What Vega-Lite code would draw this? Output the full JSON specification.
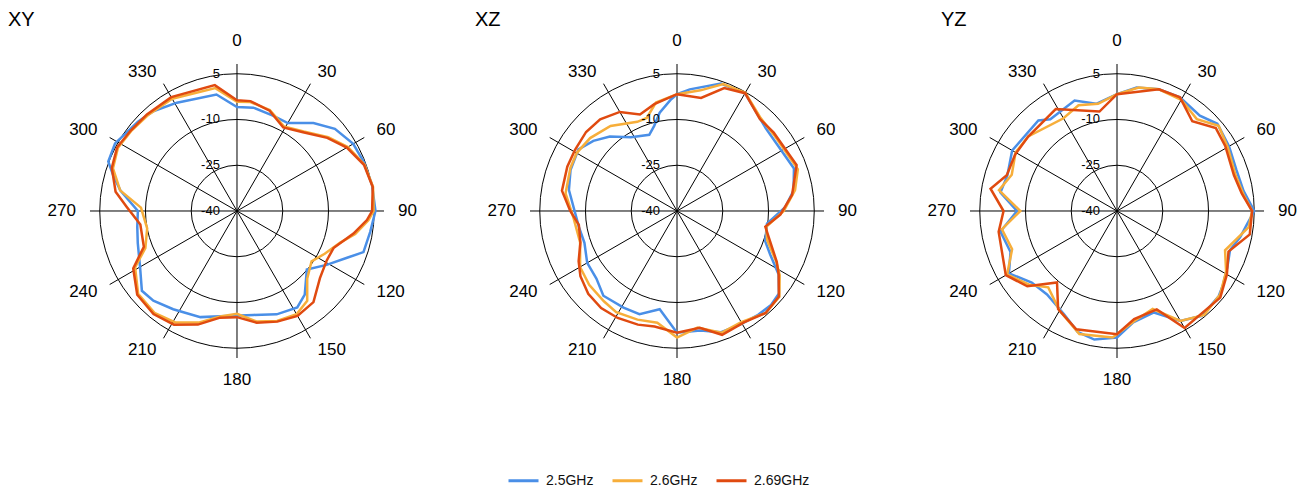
{
  "$schema": "https://vega.github.io/schema/vega-lite/v6.json",
  "padding": 0,
  "spacing": 0,
  "background": "white",
  "datasets": {
    "angles": [{"angle":0},{"angle":30},{"angle":60},{"angle":90},{"angle":120},{"angle":150},{"angle":180},{"angle":210},{"angle":240},{"angle":270},{"angle":300},{"angle":330}],
    "spokes": [{"angle":0},{"angle":30},{"angle":60},{"angle":90},{"angle":120},{"angle":150}],
    "rings": [{"db":-25},{"db":-10},{"db":5}],
    "ticks": [{"db":5,"label":"5"},{"db":-10,"label":"-10"},{"db":-25,"label":"-25"},{"db":-40,"label":"-40"}],
    "pattern": [
      {"plane":"XY","freq":"2.5GHz","angle":0,"db":-5.9},{"plane":"XY","freq":"2.5GHz","angle":9,"db":-5.7},{"plane":"XY","freq":"2.5GHz","angle":21,"db":-6.6},{"plane":"XY","freq":"2.5GHz","angle":30,"db":-6.7},{"plane":"XY","freq":"2.5GHz","angle":41,"db":-1.8},{"plane":"XY","freq":"2.5GHz","angle":50,"db":1.9},{"plane":"XY","freq":"2.5GHz","angle":60,"db":4.0},{"plane":"XY","freq":"2.5GHz","angle":69,"db":4.6},{"plane":"XY","freq":"2.5GHz","angle":79,"db":5.1},{"plane":"XY","freq":"2.5GHz","angle":90,"db":5.4},{"plane":"XY","freq":"2.5GHz","angle":99,"db":4.2},{"plane":"XY","freq":"2.5GHz","angle":108,"db":3.6},{"plane":"XY","freq":"2.5GHz","angle":113,"db":-0.8},{"plane":"XY","freq":"2.5GHz","angle":121,"db":-5.7},{"plane":"XY","freq":"2.5GHz","angle":130,"db":-10.1},{"plane":"XY","freq":"2.5GHz","angle":141,"db":-4.7},{"plane":"XY","freq":"2.5GHz","angle":148,"db":-2.7},{"plane":"XY","freq":"2.5GHz","angle":159,"db":-3.7},{"plane":"XY","freq":"2.5GHz","angle":171,"db":-5.5},{"plane":"XY","freq":"2.5GHz","angle":182,"db":-5.6},{"plane":"XY","freq":"2.5GHz","angle":199,"db":-3.2},{"plane":"XY","freq":"2.5GHz","angle":213,"db":-1.6},{"plane":"XY","freq":"2.5GHz","angle":223,"db":0.2},{"plane":"XY","freq":"2.5GHz","angle":230,"db":0.7},{"plane":"XY","freq":"2.5GHz","angle":240,"db":-3.3},{"plane":"XY","freq":"2.5GHz","angle":252,"db":-5.8},{"plane":"XY","freq":"2.5GHz","angle":261,"db":-6.9},{"plane":"XY","freq":"2.5GHz","angle":270,"db":-7.5},{"plane":"XY","freq":"2.5GHz","angle":280,"db":-1.2},{"plane":"XY","freq":"2.5GHz","angle":286,"db":2.2},{"plane":"XY","freq":"2.5GHz","angle":291,"db":5.2},{"plane":"XY","freq":"2.5GHz","angle":299,"db":5.7},{"plane":"XY","freq":"2.5GHz","angle":312,"db":3.7},{"plane":"XY","freq":"2.5GHz","angle":320,"db":2.7},{"plane":"XY","freq":"2.5GHz","angle":331,"db":0.6},{"plane":"XY","freq":"2.5GHz","angle":350,"db":-1.2},
      {"plane":"XY","freq":"2.6GHz","angle":0,"db":-4.2},{"plane":"XY","freq":"2.6GHz","angle":7,"db":-4.0},{"plane":"XY","freq":"2.6GHz","angle":18,"db":-5.2},{"plane":"XY","freq":"2.6GHz","angle":29,"db":-8.3},{"plane":"XY","freq":"2.6GHz","angle":40,"db":-6.0},{"plane":"XY","freq":"2.6GHz","angle":51,"db":-1.5},{"plane":"XY","freq":"2.6GHz","angle":60,"db":2.0},{"plane":"XY","freq":"2.6GHz","angle":70,"db":4.5},{"plane":"XY","freq":"2.6GHz","angle":80,"db":5.3},{"plane":"XY","freq":"2.6GHz","angle":90,"db":4.8},{"plane":"XY","freq":"2.6GHz","angle":94,"db":3.2},{"plane":"XY","freq":"2.6GHz","angle":101,"db":-0.5},{"plane":"XY","freq":"2.6GHz","angle":107,"db":-4.6},{"plane":"XY","freq":"2.6GHz","angle":116,"db":-8.0},{"plane":"XY","freq":"2.6GHz","angle":124,"db":-10.5},{"plane":"XY","freq":"2.6GHz","angle":134,"db":-8.0},{"plane":"XY","freq":"2.6GHz","angle":142,"db":-2.6},{"plane":"XY","freq":"2.6GHz","angle":150,"db":-0.9},{"plane":"XY","freq":"2.6GHz","angle":160,"db":-1.6},{"plane":"XY","freq":"2.6GHz","angle":170,"db":-3.2},{"plane":"XY","freq":"2.6GHz","angle":180,"db":-6.3},{"plane":"XY","freq":"2.6GHz","angle":189,"db":-5.0},{"plane":"XY","freq":"2.6GHz","angle":199,"db":-1.3},{"plane":"XY","freq":"2.6GHz","angle":209,"db":1.8},{"plane":"XY","freq":"2.6GHz","angle":219,"db":3.0},{"plane":"XY","freq":"2.6GHz","angle":230,"db":2.3},{"plane":"XY","freq":"2.6GHz","angle":241,"db":-1.8},{"plane":"XY","freq":"2.6GHz","angle":248,"db":-7.6},{"plane":"XY","freq":"2.6GHz","angle":259,"db":-10.0},{"plane":"XY","freq":"2.6GHz","angle":272,"db":-8.5},{"plane":"XY","freq":"2.6GHz","angle":280,"db":-1.1},{"plane":"XY","freq":"2.6GHz","angle":289,"db":3.0},{"plane":"XY","freq":"2.6GHz","angle":298,"db":4.2},{"plane":"XY","freq":"2.6GHz","angle":307,"db":3.5},{"plane":"XY","freq":"2.6GHz","angle":317,"db":2.9},{"plane":"XY","freq":"2.6GHz","angle":330,"db":2.5},{"plane":"XY","freq":"2.6GHz","angle":350,"db":0.9},
      {"plane":"XY","freq":"2.69GHz","angle":0,"db":-3.7},{"plane":"XY","freq":"2.69GHz","angle":7,"db":-3.7},{"plane":"XY","freq":"2.69GHz","angle":18,"db":-5.4},{"plane":"XY","freq":"2.69GHz","angle":29,"db":-8.7},{"plane":"XY","freq":"2.69GHz","angle":40,"db":-6.3},{"plane":"XY","freq":"2.69GHz","angle":51,"db":-1.9},{"plane":"XY","freq":"2.69GHz","angle":60,"db":1.6},{"plane":"XY","freq":"2.69GHz","angle":70,"db":4.3},{"plane":"XY","freq":"2.69GHz","angle":80,"db":5.2},{"plane":"XY","freq":"2.69GHz","angle":90,"db":4.3},{"plane":"XY","freq":"2.69GHz","angle":94,"db":2.7},{"plane":"XY","freq":"2.69GHz","angle":101,"db":-1.1},{"plane":"XY","freq":"2.69GHz","angle":111,"db":-6.1},{"plane":"XY","freq":"2.69GHz","angle":119,"db":-6.4},{"plane":"XY","freq":"2.69GHz","angle":129,"db":-5.0},{"plane":"XY","freq":"2.69GHz","angle":140,"db":-1.0},{"plane":"XY","freq":"2.69GHz","angle":150,"db":-0.3},{"plane":"XY","freq":"2.69GHz","angle":160,"db":-1.4},{"plane":"XY","freq":"2.69GHz","angle":170,"db":-2.8},{"plane":"XY","freq":"2.69GHz","angle":180,"db":-5.2},{"plane":"XY","freq":"2.69GHz","angle":189,"db":-4.6},{"plane":"XY","freq":"2.69GHz","angle":199,"db":-0.6},{"plane":"XY","freq":"2.69GHz","angle":209,"db":2.6},{"plane":"XY","freq":"2.69GHz","angle":219,"db":3.5},{"plane":"XY","freq":"2.69GHz","angle":230,"db":2.7},{"plane":"XY","freq":"2.69GHz","angle":241,"db":-1.1},{"plane":"XY","freq":"2.69GHz","angle":249,"db":-7.3},{"plane":"XY","freq":"2.69GHz","angle":262,"db":-8.0},{"plane":"XY","freq":"2.69GHz","angle":272,"db":-3.9},{"plane":"XY","freq":"2.69GHz","angle":279,"db":0.3},{"plane":"XY","freq":"2.69GHz","angle":289,"db":3.4},{"plane":"XY","freq":"2.69GHz","angle":298,"db":4.5},{"plane":"XY","freq":"2.69GHz","angle":307,"db":3.7},{"plane":"XY","freq":"2.69GHz","angle":317,"db":3.3},{"plane":"XY","freq":"2.69GHz","angle":330,"db":3.1},{"plane":"XY","freq":"2.69GHz","angle":350,"db":1.9},
      {"plane":"XZ","freq":"2.5GHz","angle":0,"db":-1.7},{"plane":"XZ","freq":"2.5GHz","angle":6,"db":0.1},{"plane":"XZ","freq":"2.5GHz","angle":19,"db":4.2},{"plane":"XZ","freq":"2.5GHz","angle":30,"db":4.6},{"plane":"XZ","freq":"2.5GHz","angle":47,"db":-0.2},{"plane":"XZ","freq":"2.5GHz","angle":56,"db":-0.6},{"plane":"XZ","freq":"2.5GHz","angle":70,"db":0.8},{"plane":"XZ","freq":"2.5GHz","angle":80,"db":-1.2},{"plane":"XZ","freq":"2.5GHz","angle":88,"db":-4.5},{"plane":"XZ","freq":"2.5GHz","angle":98,"db":-10.2},{"plane":"XZ","freq":"2.5GHz","angle":109,"db":-9.4},{"plane":"XZ","freq":"2.5GHz","angle":115,"db":-6.3},{"plane":"XZ","freq":"2.5GHz","angle":122,"db":-0.7},{"plane":"XZ","freq":"2.5GHz","angle":129,"db":3.0},{"plane":"XZ","freq":"2.5GHz","angle":135,"db":3.6},{"plane":"XZ","freq":"2.5GHz","angle":142,"db":3.2},{"plane":"XZ","freq":"2.5GHz","angle":151,"db":2.6},{"plane":"XZ","freq":"2.5GHz","angle":160,"db":2.3},{"plane":"XZ","freq":"2.5GHz","angle":169,"db":-0.1},{"plane":"XZ","freq":"2.5GHz","angle":180,"db":-0.1},{"plane":"XZ","freq":"2.5GHz","angle":190,"db":-7.3},{"plane":"XZ","freq":"2.5GHz","angle":200,"db":-4.0},{"plane":"XZ","freq":"2.5GHz","angle":209,"db":-3.8},{"plane":"XZ","freq":"2.5GHz","angle":221,"db":-3.2},{"plane":"XZ","freq":"2.5GHz","angle":230,"db":-5.5},{"plane":"XZ","freq":"2.5GHz","angle":240,"db":-6.0},{"plane":"XZ","freq":"2.5GHz","angle":251,"db":-7.9},{"plane":"XZ","freq":"2.5GHz","angle":261,"db":-7.4},{"plane":"XZ","freq":"2.5GHz","angle":281,"db":-3.9},{"plane":"XZ","freq":"2.5GHz","angle":291,"db":-2.6},{"plane":"XZ","freq":"2.5GHz","angle":302,"db":-1.9},{"plane":"XZ","freq":"2.5GHz","angle":310,"db":-4.2},{"plane":"XZ","freq":"2.5GHz","angle":318,"db":-7.1},{"plane":"XZ","freq":"2.5GHz","angle":328,"db":-11.5},{"plane":"XZ","freq":"2.5GHz","angle":340,"db":-13.4},{"plane":"XZ","freq":"2.5GHz","angle":345,"db":-11.1},{"plane":"XZ","freq":"2.5GHz","angle":350,"db":-7.3},{"plane":"XZ","freq":"2.5GHz","angle":357,"db":-3.3},
      {"plane":"XZ","freq":"2.6GHz","angle":0,"db":-1.7},{"plane":"XZ","freq":"2.6GHz","angle":11,"db":0.3},{"plane":"XZ","freq":"2.6GHz","angle":20,"db":4.3},{"plane":"XZ","freq":"2.6GHz","angle":30,"db":4.8},{"plane":"XZ","freq":"2.6GHz","angle":42,"db":1.0},{"plane":"XZ","freq":"2.6GHz","angle":52,"db":0.4},{"plane":"XZ","freq":"2.6GHz","angle":71,"db":1.9},{"plane":"XZ","freq":"2.6GHz","angle":80,"db":-0.7},{"plane":"XZ","freq":"2.6GHz","angle":90,"db":-5.0},{"plane":"XZ","freq":"2.6GHz","angle":100,"db":-10.3},{"plane":"XZ","freq":"2.6GHz","angle":108,"db":-8.9},{"plane":"XZ","freq":"2.6GHz","angle":117,"db":-3.5},{"plane":"XZ","freq":"2.6GHz","angle":122,"db":-0.3},{"plane":"XZ","freq":"2.6GHz","angle":130,"db":3.8},{"plane":"XZ","freq":"2.6GHz","angle":139,"db":4.3},{"plane":"XZ","freq":"2.6GHz","angle":150,"db":2.1},{"plane":"XZ","freq":"2.6GHz","angle":160,"db":2.5},{"plane":"XZ","freq":"2.6GHz","angle":170,"db":-1.2},{"plane":"XZ","freq":"2.6GHz","angle":180,"db":1.5},{"plane":"XZ","freq":"2.6GHz","angle":190,"db":-2.8},{"plane":"XZ","freq":"2.6GHz","angle":200,"db":-2.1},{"plane":"XZ","freq":"2.6GHz","angle":211,"db":-1.3},{"plane":"XZ","freq":"2.6GHz","angle":219,"db":-1.9},{"plane":"XZ","freq":"2.6GHz","angle":230,"db":-2.4},{"plane":"XZ","freq":"2.6GHz","angle":240,"db":-3.3},{"plane":"XZ","freq":"2.6GHz","angle":252,"db":-6.6},{"plane":"XZ","freq":"2.6GHz","angle":266,"db":-6.0},{"plane":"XZ","freq":"2.6GHz","angle":279,"db":-3.0},{"plane":"XZ","freq":"2.6GHz","angle":292,"db":-2.3},{"plane":"XZ","freq":"2.6GHz","angle":300,"db":-2.0},{"plane":"XZ","freq":"2.6GHz","angle":310,"db":-2.8},{"plane":"XZ","freq":"2.6GHz","angle":322,"db":-4.6},{"plane":"XZ","freq":"2.6GHz","angle":336,"db":-8.0},{"plane":"XZ","freq":"2.6GHz","angle":342,"db":-7.9},{"plane":"XZ","freq":"2.6GHz","angle":349,"db":-3.8},
      {"plane":"XZ","freq":"2.69GHz","angle":0,"db":-1.7},{"plane":"XZ","freq":"2.69GHz","angle":12,"db":-2.1},{"plane":"XZ","freq":"2.69GHz","angle":21,"db":3.2},{"plane":"XZ","freq":"2.69GHz","angle":30,"db":4.6},{"plane":"XZ","freq":"2.69GHz","angle":42,"db":0.6},{"plane":"XZ","freq":"2.69GHz","angle":51,"db":0.8},{"plane":"XZ","freq":"2.69GHz","angle":69,"db":2.0},{"plane":"XZ","freq":"2.69GHz","angle":82,"db":-1.9},{"plane":"XZ","freq":"2.69GHz","angle":92,"db":-6.1},{"plane":"XZ","freq":"2.69GHz","angle":100,"db":-10.6},{"plane":"XZ","freq":"2.69GHz","angle":106,"db":-8.7},{"plane":"XZ","freq":"2.69GHz","angle":117,"db":-3.3},{"plane":"XZ","freq":"2.69GHz","angle":122,"db":-0.7},{"plane":"XZ","freq":"2.69GHz","angle":130,"db":3.6},{"plane":"XZ","freq":"2.69GHz","angle":139,"db":4.3},{"plane":"XZ","freq":"2.69GHz","angle":149,"db":2.6},{"plane":"XZ","freq":"2.69GHz","angle":160,"db":3.2},{"plane":"XZ","freq":"2.69GHz","angle":169,"db":-1.0},{"plane":"XZ","freq":"2.69GHz","angle":180,"db":-0.1},{"plane":"XZ","freq":"2.69GHz","angle":191,"db":-1.4},{"plane":"XZ","freq":"2.69GHz","angle":199,"db":-0.6},{"plane":"XZ","freq":"2.69GHz","angle":209,"db":0.1},{"plane":"XZ","freq":"2.69GHz","angle":218,"db":0.4},{"plane":"XZ","freq":"2.69GHz","angle":227,"db":-0.2},{"plane":"XZ","freq":"2.69GHz","angle":236,"db":-1.8},{"plane":"XZ","freq":"2.69GHz","angle":243,"db":-3.8},{"plane":"XZ","freq":"2.69GHz","angle":252,"db":-6.7},{"plane":"XZ","freq":"2.69GHz","angle":262,"db":-7.5},{"plane":"XZ","freq":"2.69GHz","angle":270,"db":-5.0},{"plane":"XZ","freq":"2.69GHz","angle":280,"db":-1.7},{"plane":"XZ","freq":"2.69GHz","angle":292,"db":-1.2},{"plane":"XZ","freq":"2.69GHz","angle":301,"db":-1.0},{"plane":"XZ","freq":"2.69GHz","angle":311,"db":-0.5},{"plane":"XZ","freq":"2.69GHz","angle":320,"db":-0.8},{"plane":"XZ","freq":"2.69GHz","angle":330,"db":-2.5},{"plane":"XZ","freq":"2.69GHz","angle":339,"db":-6.1},{"plane":"XZ","freq":"2.69GHz","angle":348,"db":-4.2},
      {"plane":"YZ","freq":"2.5GHz","angle":0,"db":-1.7},{"plane":"YZ","freq":"2.5GHz","angle":9,"db":1.0},{"plane":"YZ","freq":"2.5GHz","angle":19,"db":2.2},{"plane":"YZ","freq":"2.5GHz","angle":29,"db":2.6},{"plane":"YZ","freq":"2.5GHz","angle":41,"db":1.4},{"plane":"YZ","freq":"2.5GHz","angle":49,"db":3.6},{"plane":"YZ","freq":"2.5GHz","angle":60,"db":2.4},{"plane":"YZ","freq":"2.5GHz","angle":71,"db":1.4},{"plane":"YZ","freq":"2.5GHz","angle":81,"db":2.0},{"plane":"YZ","freq":"2.5GHz","angle":90,"db":5.0},{"plane":"YZ","freq":"2.5GHz","angle":96,"db":2.8},{"plane":"YZ","freq":"2.5GHz","angle":102,"db":1.3},{"plane":"YZ","freq":"2.5GHz","angle":109,"db":-0.8},{"plane":"YZ","freq":"2.5GHz","angle":117,"db":0.6},{"plane":"YZ","freq":"2.5GHz","angle":125,"db":2.4},{"plane":"YZ","freq":"2.5GHz","angle":130,"db":3.5},{"plane":"YZ","freq":"2.5GHz","angle":141,"db":4.2},{"plane":"YZ","freq":"2.5GHz","angle":150,"db":1.6},{"plane":"YZ","freq":"2.5GHz","angle":160,"db":-4.6},{"plane":"YZ","freq":"2.5GHz","angle":172,"db":-3.0},{"plane":"YZ","freq":"2.5GHz","angle":180,"db":1.5},{"plane":"YZ","freq":"2.5GHz","angle":190,"db":2.8},{"plane":"YZ","freq":"2.5GHz","angle":198,"db":1.7},{"plane":"YZ","freq":"2.5GHz","angle":207,"db":-1.9},{"plane":"YZ","freq":"2.5GHz","angle":220,"db":-4.3},{"plane":"YZ","freq":"2.5GHz","angle":230,"db":-3.5},{"plane":"YZ","freq":"2.5GHz","angle":240,"db":0.9},{"plane":"YZ","freq":"2.5GHz","angle":249,"db":-2.6},{"plane":"YZ","freq":"2.5GHz","angle":260,"db":-1.2},{"plane":"YZ","freq":"2.5GHz","angle":270,"db":-7.2},{"plane":"YZ","freq":"2.5GHz","angle":279,"db":-1.3},{"plane":"YZ","freq":"2.5GHz","angle":288,"db":-2.2},{"plane":"YZ","freq":"2.5GHz","angle":300,"db":-0.3},{"plane":"YZ","freq":"2.5GHz","angle":319,"db":-0.7},{"plane":"YZ","freq":"2.5GHz","angle":324,"db":-2.8},{"plane":"YZ","freq":"2.5GHz","angle":339,"db":-1.2},{"plane":"YZ","freq":"2.5GHz","angle":349,"db":-4.2},
      {"plane":"YZ","freq":"2.6GHz","angle":0,"db":-1.7},{"plane":"YZ","freq":"2.6GHz","angle":10,"db":1.1},{"plane":"YZ","freq":"2.6GHz","angle":19,"db":2.2},{"plane":"YZ","freq":"2.6GHz","angle":30,"db":2.1},{"plane":"YZ","freq":"2.6GHz","angle":41,"db":-0.1},{"plane":"YZ","freq":"2.6GHz","angle":50,"db":3.5},{"plane":"YZ","freq":"2.6GHz","angle":60,"db":1.9},{"plane":"YZ","freq":"2.6GHz","angle":73,"db":0.6},{"plane":"YZ","freq":"2.6GHz","angle":83,"db":1.9},{"plane":"YZ","freq":"2.6GHz","angle":90,"db":4.3},{"plane":"YZ","freq":"2.6GHz","angle":97,"db":3.5},{"plane":"YZ","freq":"2.6GHz","angle":110,"db":-2.3},{"plane":"YZ","freq":"2.6GHz","angle":119,"db":0.9},{"plane":"YZ","freq":"2.6GHz","angle":129,"db":3.5},{"plane":"YZ","freq":"2.6GHz","angle":140,"db":4.5},{"plane":"YZ","freq":"2.6GHz","angle":150,"db":1.6},{"plane":"YZ","freq":"2.6GHz","angle":160,"db":-5.8},{"plane":"YZ","freq":"2.6GHz","angle":171,"db":-3.5},{"plane":"YZ","freq":"2.6GHz","angle":182,"db":1.5},{"plane":"YZ","freq":"2.6GHz","angle":197,"db":2.2},{"plane":"YZ","freq":"2.6GHz","angle":210,"db":-2.3},{"plane":"YZ","freq":"2.6GHz","angle":222,"db":-6.3},{"plane":"YZ","freq":"2.6GHz","angle":230,"db":-2.4},{"plane":"YZ","freq":"2.6GHz","angle":240,"db":1.6},{"plane":"YZ","freq":"2.6GHz","angle":250,"db":-3.4},{"plane":"YZ","freq":"2.6GHz","angle":261,"db":-1.8},{"plane":"YZ","freq":"2.6GHz","angle":270,"db":-8.3},{"plane":"YZ","freq":"2.6GHz","angle":280,"db":-0.7},{"plane":"YZ","freq":"2.6GHz","angle":289,"db":-3.5},{"plane":"YZ","freq":"2.6GHz","angle":300,"db":-1.6},{"plane":"YZ","freq":"2.6GHz","angle":310,"db":-2.0},{"plane":"YZ","freq":"2.6GHz","angle":330,"db":-4.9},{"plane":"YZ","freq":"2.6GHz","angle":340,"db":-3.1},{"plane":"YZ","freq":"2.6GHz","angle":350,"db":-4.3},
      {"plane":"YZ","freq":"2.69GHz","angle":0,"db":-1.7},{"plane":"YZ","freq":"2.69GHz","angle":19,"db":2.2},{"plane":"YZ","freq":"2.69GHz","angle":29,"db":2.6},{"plane":"YZ","freq":"2.69GHz","angle":40,"db":-1.6},{"plane":"YZ","freq":"2.69GHz","angle":50,"db":2.3},{"plane":"YZ","freq":"2.69GHz","angle":59,"db":1.4},{"plane":"YZ","freq":"2.69GHz","angle":73,"db":0.1},{"plane":"YZ","freq":"2.69GHz","angle":82,"db":1.3},{"plane":"YZ","freq":"2.69GHz","angle":90,"db":4.3},{"plane":"YZ","freq":"2.69GHz","angle":100,"db":4.2},{"plane":"YZ","freq":"2.69GHz","angle":110,"db":-1.1},{"plane":"YZ","freq":"2.69GHz","angle":120,"db":1.6},{"plane":"YZ","freq":"2.69GHz","angle":130,"db":4.2},{"plane":"YZ","freq":"2.69GHz","angle":150,"db":4.3},{"plane":"YZ","freq":"2.69GHz","angle":158,"db":-5.2},{"plane":"YZ","freq":"2.69GHz","angle":171,"db":-4.1},{"plane":"YZ","freq":"2.69GHz","angle":180,"db":0.4},{"plane":"YZ","freq":"2.69GHz","angle":199,"db":1.0},{"plane":"YZ","freq":"2.69GHz","angle":211,"db":-2.5},{"plane":"YZ","freq":"2.69GHz","angle":220,"db":-9.4},{"plane":"YZ","freq":"2.69GHz","angle":230,"db":-1.6},{"plane":"YZ","freq":"2.69GHz","angle":240,"db":2.1},{"plane":"YZ","freq":"2.69GHz","angle":260,"db":-0.6},{"plane":"YZ","freq":"2.69GHz","angle":270,"db":-2.8},{"plane":"YZ","freq":"2.69GHz","angle":280,"db":2.1},{"plane":"YZ","freq":"2.69GHz","angle":288,"db":-2.0},{"plane":"YZ","freq":"2.69GHz","angle":299,"db":-1.8},{"plane":"YZ","freq":"2.69GHz","angle":310,"db":-2.0},{"plane":"YZ","freq":"2.69GHz","angle":329,"db":-1.0},{"plane":"YZ","freq":"2.69GHz","angle":350,"db":-6.9}
    ]
  },
  "hconcat": [
    {
      "width": 436, "height": 489,
      "layer": [
        {"data": {"name": "rings"}, "transform": [{"calculate": "datum.db+40", "as": "rr"}], "mark": {"type": "point", "shape": "circle", "filled": false, "stroke": "#000", "strokeWidth": 1, "opacity": 1},
         "encoding": {"x": {"datum": 0, "type": "quantitative", "scale": {"domain": [-77.70, 65.25]}, "axis": null}, "y": {"datum": 0, "type": "quantitative", "scale": {"domain": [-91.15, 69.18]}, "axis": null}, "size": {"field": "rr", "type": "quantitative", "scale": {"type": "pow", "exponent": 2, "domain": [0, 45], "range": [0, 75350]}, "legend": null}}},
        {"data": {"name": "spokes"}, "transform": [{"calculate": "48.2*sin(datum.angle*PI/180)", "as": "sx"}, {"calculate": "48.2*cos(datum.angle*PI/180)", "as": "sy"}, {"calculate": "-datum.sx", "as": "ex"}, {"calculate": "-datum.sy", "as": "ey"}], "mark": {"type": "rule", "color": "#000", "strokeWidth": 1},
         "encoding": {"x": {"field": "sx", "type": "quantitative", "scale": {"domain": [-77.70, 65.25]}, "axis": null}, "y": {"field": "sy", "type": "quantitative", "scale": {"domain": [-91.15, 69.18]}, "axis": null}, "x2": {"field": "ex"}, "y2": {"field": "ey"}}},
        {"data": {"name": "pattern"}, "transform": [{"filter": "datum.plane == 'XY'"}, {"calculate": "(datum.db+40)*sin(datum.angle*PI/180)", "as": "px"}, {"calculate": "(datum.db+40)*cos(datum.angle*PI/180)", "as": "py"}], "mark": {"type": "line", "interpolate": "linear-closed", "strokeWidth": 2.5},
         "encoding": {"x": {"field": "px", "type": "quantitative", "scale": {"domain": [-77.70, 65.25]}, "axis": null}, "y": {"field": "py", "type": "quantitative", "scale": {"domain": [-91.15, 69.18]}, "axis": null}, "order": {"field": "angle", "type": "quantitative"},
           "color": {"field": "freq", "type": "nominal", "scale": {"domain": ["2.5GHz", "2.6GHz", "2.69GHz"], "range": ["#4a8fe7", "#f7ae3a", "#e04a10"]},
             "legend": {"title": null, "orient": "none", "legendX": 507, "legendY": 464, "direction": "horizontal", "symbolType": "stroke", "symbolSize": 900, "symbolStrokeWidth": 3, "labelFontSize": 14, "labelFont": "Liberation Sans", "labelColor": "#111", "labelOffset": 6, "columnPadding": 12, "labelBaseline": "middle"}}}},
        {"data": {"name": "angles"}, "transform": [{"calculate": "52.8*sin(datum.angle*PI/180)", "as": "lx"}, {"calculate": "52.8*cos(datum.angle*PI/180)", "as": "ly"}, {"calculate": "''+datum.angle", "as": "txt"}],
         "mark": {"type": "text", "font": "Liberation Sans", "fontSize": 17, "color": "#000", "align": {"expr": "datum.angle == 0 || datum.angle == 180 ? 'center' : (datum.angle < 180 ? 'left' : 'right')"}, "baseline": {"expr": "datum.angle == 0 ? 'bottom' : (datum.angle == 180 ? 'top' : 'middle')"}},
         "encoding": {"x": {"field": "lx", "type": "quantitative", "scale": {"domain": [-77.70, 65.25]}, "axis": null}, "y": {"field": "ly", "type": "quantitative", "scale": {"domain": [-91.15, 69.18]}, "axis": null}, "text": {"field": "txt", "type": "nominal"}}},
        {"data": {"name": "ticks"}, "transform": [{"calculate": "datum.db+40", "as": "ty"}],
         "mark": {"type": "text", "font": "Liberation Sans", "fontSize": 13, "color": "#000", "align": "right", "baseline": "middle"},
         "encoding": {"x": {"datum": -5.6, "type": "quantitative", "scale": {"domain": [-77.70, 65.25]}, "axis": null}, "y": {"field": "ty", "type": "quantitative", "scale": {"domain": [-91.15, 69.18]}, "axis": null}, "text": {"field": "label", "type": "nominal"}}},
        {"data": {"values": [{"name": "XY"}]},
         "mark": {"type": "text", "font": "Liberation Sans", "fontSize": 20, "color": "#000", "align": "left", "baseline": "middle"},
         "encoding": {"x": {"datum": -75.08, "type": "quantitative", "scale": {"domain": [-77.70, 65.25]}, "axis": null}, "y": {"datum": 62.46, "type": "quantitative", "scale": {"domain": [-91.15, 69.18]}, "axis": null}, "text": {"field": "name", "type": "nominal"}}}
      ]
    },
    {
      "width": 436, "height": 489,
      "layer": [
        {"data": {"name": "rings"}, "transform": [{"calculate": "datum.db+40", "as": "rr"}], "mark": {"type": "point", "shape": "circle", "filled": false, "stroke": "#000", "strokeWidth": 1, "opacity": 1},
         "encoding": {"x": {"datum": 0, "type": "quantitative", "scale": {"domain": [-79.02, 63.93]}, "axis": null}, "y": {"datum": 0, "type": "quantitative", "scale": {"domain": [-91.15, 69.18]}, "axis": null}, "size": {"field": "rr", "type": "quantitative", "scale": {"type": "pow", "exponent": 2, "domain": [0, 45], "range": [0, 75350]}, "legend": null}}},
        {"data": {"name": "spokes"}, "transform": [{"calculate": "48.2*sin(datum.angle*PI/180)", "as": "sx"}, {"calculate": "48.2*cos(datum.angle*PI/180)", "as": "sy"}, {"calculate": "-datum.sx", "as": "ex"}, {"calculate": "-datum.sy", "as": "ey"}], "mark": {"type": "rule", "color": "#000", "strokeWidth": 1},
         "encoding": {"x": {"field": "sx", "type": "quantitative", "scale": {"domain": [-79.02, 63.93]}, "axis": null}, "y": {"field": "sy", "type": "quantitative", "scale": {"domain": [-91.15, 69.18]}, "axis": null}, "x2": {"field": "ex"}, "y2": {"field": "ey"}}},
        {"data": {"name": "pattern"}, "transform": [{"filter": "datum.plane == 'XZ'"}, {"calculate": "(datum.db+40)*sin(datum.angle*PI/180)", "as": "px"}, {"calculate": "(datum.db+40)*cos(datum.angle*PI/180)", "as": "py"}], "mark": {"type": "line", "interpolate": "linear-closed", "strokeWidth": 2.5},
         "encoding": {"x": {"field": "px", "type": "quantitative", "scale": {"domain": [-79.02, 63.93]}, "axis": null}, "y": {"field": "py", "type": "quantitative", "scale": {"domain": [-91.15, 69.18]}, "axis": null}, "order": {"field": "angle", "type": "quantitative"},
           "color": {"field": "freq", "type": "nominal", "scale": {"domain": ["2.5GHz", "2.6GHz", "2.69GHz"], "range": ["#4a8fe7", "#f7ae3a", "#e04a10"]}}}},
        {"data": {"name": "angles"}, "transform": [{"calculate": "52.8*sin(datum.angle*PI/180)", "as": "lx"}, {"calculate": "52.8*cos(datum.angle*PI/180)", "as": "ly"}, {"calculate": "''+datum.angle", "as": "txt"}],
         "mark": {"type": "text", "font": "Liberation Sans", "fontSize": 17, "color": "#000", "align": {"expr": "datum.angle == 0 || datum.angle == 180 ? 'center' : (datum.angle < 180 ? 'left' : 'right')"}, "baseline": {"expr": "datum.angle == 0 ? 'bottom' : (datum.angle == 180 ? 'top' : 'middle')"}},
         "encoding": {"x": {"field": "lx", "type": "quantitative", "scale": {"domain": [-79.02, 63.93]}, "axis": null}, "y": {"field": "ly", "type": "quantitative", "scale": {"domain": [-91.15, 69.18]}, "axis": null}, "text": {"field": "txt", "type": "nominal"}}},
        {"data": {"name": "ticks"}, "transform": [{"calculate": "datum.db+40", "as": "ty"}],
         "mark": {"type": "text", "font": "Liberation Sans", "fontSize": 13, "color": "#000", "align": "right", "baseline": "middle"},
         "encoding": {"x": {"datum": -5.6, "type": "quantitative", "scale": {"domain": [-79.02, 63.93]}, "axis": null}, "y": {"field": "ty", "type": "quantitative", "scale": {"domain": [-91.15, 69.18]}, "axis": null}, "text": {"field": "label", "type": "nominal"}}},
        {"data": {"values": [{"name": "XZ"}]},
         "mark": {"type": "text", "font": "Liberation Sans", "fontSize": 20, "color": "#000", "align": "left", "baseline": "middle"},
         "encoding": {"x": {"datum": -66.23, "type": "quantitative", "scale": {"domain": [-79.02, 63.93]}, "axis": null}, "y": {"datum": 62.46, "type": "quantitative", "scale": {"domain": [-91.15, 69.18]}, "axis": null}, "text": {"field": "name", "type": "nominal"}}}
      ]
    },
    {
      "width": 436, "height": 489,
      "layer": [
        {"data": {"name": "rings"}, "transform": [{"calculate": "datum.db+40", "as": "rr"}], "mark": {"type": "point", "shape": "circle", "filled": false, "stroke": "#000", "strokeWidth": 1, "opacity": 1},
         "encoding": {"x": {"datum": 0, "type": "quantitative", "scale": {"domain": [-80.33, 62.62]}, "axis": null}, "y": {"datum": 0, "type": "quantitative", "scale": {"domain": [-91.15, 69.18]}, "axis": null}, "size": {"field": "rr", "type": "quantitative", "scale": {"type": "pow", "exponent": 2, "domain": [0, 45], "range": [0, 75350]}, "legend": null}}},
        {"data": {"name": "spokes"}, "transform": [{"calculate": "48.2*sin(datum.angle*PI/180)", "as": "sx"}, {"calculate": "48.2*cos(datum.angle*PI/180)", "as": "sy"}, {"calculate": "-datum.sx", "as": "ex"}, {"calculate": "-datum.sy", "as": "ey"}], "mark": {"type": "rule", "color": "#000", "strokeWidth": 1},
         "encoding": {"x": {"field": "sx", "type": "quantitative", "scale": {"domain": [-80.33, 62.62]}, "axis": null}, "y": {"field": "sy", "type": "quantitative", "scale": {"domain": [-91.15, 69.18]}, "axis": null}, "x2": {"field": "ex"}, "y2": {"field": "ey"}}},
        {"data": {"name": "pattern"}, "transform": [{"filter": "datum.plane == 'YZ'"}, {"calculate": "(datum.db+40)*sin(datum.angle*PI/180)", "as": "px"}, {"calculate": "(datum.db+40)*cos(datum.angle*PI/180)", "as": "py"}], "mark": {"type": "line", "interpolate": "linear-closed", "strokeWidth": 2.5},
         "encoding": {"x": {"field": "px", "type": "quantitative", "scale": {"domain": [-80.33, 62.62]}, "axis": null}, "y": {"field": "py", "type": "quantitative", "scale": {"domain": [-91.15, 69.18]}, "axis": null}, "order": {"field": "angle", "type": "quantitative"},
           "color": {"field": "freq", "type": "nominal", "scale": {"domain": ["2.5GHz", "2.6GHz", "2.69GHz"], "range": ["#4a8fe7", "#f7ae3a", "#e04a10"]}}}},
        {"data": {"name": "angles"}, "transform": [{"calculate": "52.8*sin(datum.angle*PI/180)", "as": "lx"}, {"calculate": "52.8*cos(datum.angle*PI/180)", "as": "ly"}, {"calculate": "''+datum.angle", "as": "txt"}],
         "mark": {"type": "text", "font": "Liberation Sans", "fontSize": 17, "color": "#000", "align": {"expr": "datum.angle == 0 || datum.angle == 180 ? 'center' : (datum.angle < 180 ? 'left' : 'right')"}, "baseline": {"expr": "datum.angle == 0 ? 'bottom' : (datum.angle == 180 ? 'top' : 'middle')"}},
         "encoding": {"x": {"field": "lx", "type": "quantitative", "scale": {"domain": [-80.33, 62.62]}, "axis": null}, "y": {"field": "ly", "type": "quantitative", "scale": {"domain": [-91.15, 69.18]}, "axis": null}, "text": {"field": "txt", "type": "nominal"}}},
        {"data": {"name": "ticks"}, "transform": [{"calculate": "datum.db+40", "as": "ty"}],
         "mark": {"type": "text", "font": "Liberation Sans", "fontSize": 13, "color": "#000", "align": "right", "baseline": "middle"},
         "encoding": {"x": {"datum": -5.6, "type": "quantitative", "scale": {"domain": [-80.33, 62.62]}, "axis": null}, "y": {"field": "ty", "type": "quantitative", "scale": {"domain": [-91.15, 69.18]}, "axis": null}, "text": {"field": "label", "type": "nominal"}}},
        {"data": {"values": [{"name": "YZ"}]},
         "mark": {"type": "text", "font": "Liberation Sans", "fontSize": 20, "color": "#000", "align": "left", "baseline": "middle"},
         "encoding": {"x": {"datum": -57.70, "type": "quantitative", "scale": {"domain": [-80.33, 62.62]}, "axis": null}, "y": {"datum": 62.46, "type": "quantitative", "scale": {"domain": [-91.15, 69.18]}, "axis": null}, "text": {"field": "name", "type": "nominal"}}}
      ]
    }
  ],
  "resolve": {"scale": {"x": "independent", "y": "independent"}},
  "config": {"view": {"stroke": null}, "font": "Liberation Sans"}
}
